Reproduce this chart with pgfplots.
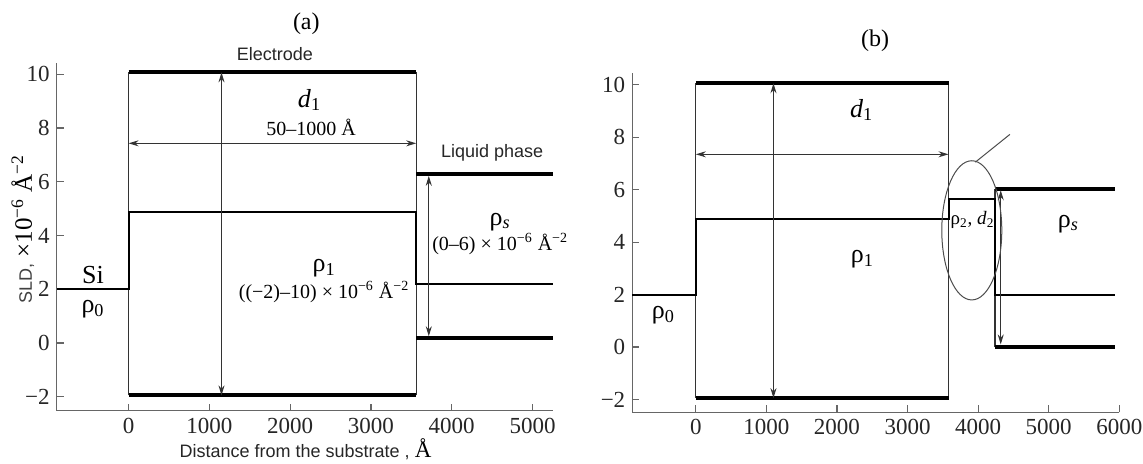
\documentclass[border=0pt]{standalone}
\usepackage{fontspec}
\setmainfont{Liberation Serif}
\newfontfamily\sansf{Liberation Sans}
\usepackage{pgfplots}
\pgfplotsset{compat=1.18}
\usetikzlibrary{arrows.meta}

\pgfplotsset{
  common/.style={
    scale only axis, axis lines*=left, tick align=inside,
    major tick length=3.5pt, clip=false,
    axis line style={black!60, line width=0.6pt},
    every tick/.style={black!60, line width=0.6pt},
    ytick={-2,0,2,4,6,8,10}, yticklabels={−2,0,2,4,6,8,10},
    tick label style={font=\fontsize{11.5}{12}\selectfont, text=black!85},
    anchor=south west,
  },
  thick line/.style={black, line width=2pt},
  thin line/.style={black!80, line width=0.6pt},
  profile/.style={black, line width=1pt},
}
\tikzset{darr/.style={black!80, line width=0.5pt, {Stealth[length=5pt,width=3pt]}-{Stealth[length=5pt,width=3pt]}}}

\begin{document}
\begin{tikzpicture}
\useasboundingbox (0pt,0pt) rectangle (571.5pt,232pt);

% ---------------- panel (a)
\begin{axis}[common, at={(28.35pt,26.65pt)}, width=248pt, height=174pt,
  xmin=-890, xmax=5250, ymin=-2.52, ymax=10.43,
  xtick={0,1000,2000,3000,4000,5000}, xticklabels={0,1000,2000,3000,4000,5000}]
\addplot[thin line] coordinates {(0,-1.95) (0,10.07)};
\addplot[thin line] coordinates {(3560,-1.95) (3560,10.07)};
\addplot[thick line] coordinates {(0,10.07) (3560,10.07)};
\addplot[thick line] coordinates {(0,-1.95) (3560,-1.95)};
\addplot[thick line] coordinates {(3560,6.27) (5250,6.27)};
\addplot[thick line] coordinates {(3560,0.2) (5250,0.2)};
\addplot[profile] coordinates {(-890,2.0) (0,2.0) (0,4.89) (3560,4.89) (3560,2.2) (5250,2.2)};
\draw[darr] (axis cs:1150,-1.95) -- (axis cs:1150,10.07);
\draw[darr] (axis cs:0,7.43) -- (axis cs:3560,7.43);
\draw[darr] (axis cs:3716,0.25) -- (axis cs:3716,6.22);
\node[font=\fontsize{12}{14}\selectfont] at (axis cs:2200,11.89) {(a)};
\node[font=\sansf\fontsize{9}{10}\selectfont, text=black!85] at (axis cs:1810,10.75) {Electrode};
\node[font=\fontsize{13}{14}\selectfont] at (axis cs:2240,9.04) {\textit{d}\textsubscript{1}};
\node[font=\fontsize{10}{12}\selectfont] at (axis cs:2260,8.02) {50–1000 Å};
\node[font=\sansf\fontsize{9}{10}\selectfont, text=black!85] at (axis cs:4500,7.07) {Liquid phase};
\node[font=\fontsize{13}{14}\selectfont] at (axis cs:4600,4.5) {ρ\textsubscript{\textit{s}}};
\node[font=\fontsize{10}{12}\selectfont] at (axis cs:4600,3.68) {(0–6) × 10\textsuperscript{−6} Å\textsuperscript{−2}};
\node[font=\fontsize{13}{14}\selectfont] at (axis cs:2420,2.79) {ρ\textsubscript{1}};
\node[font=\fontsize{10}{12}\selectfont] at (axis cs:2420,1.9) {((−2)–10) × 10\textsuperscript{−6} Å\textsuperscript{−2}};
\node[font=\fontsize{13}{14}\selectfont] at (axis cs:-440,2.53) {Si};
\node[font=\fontsize{13}{14}\selectfont] at (axis cs:-440,1.27) {ρ\textsubscript{0}};
\node[rotate=90, font=\fontsize{12.5}{14}\selectfont] at (axis cs:-1310,4.23)
  {{\sansf\fontsize{9}{10}\selectfont\color{black!75}SLD,} ×10\textsuperscript{−6} Å\textsuperscript{−2}};
\node[inner sep=1pt] at (axis cs:2190,-3.95) {{\sansf\fontsize{9}{10}\selectfont\color{black!85}Distance from the substrate ,} {\fontsize{11.5}{12}\selectfont Å}};
\end{axis}

% ---------------- panel (b)
\begin{axis}[common, at={(316.15pt,25.85pt)}, width=243.5pt, height=169.5pt,
  xmin=-900, xmax=6000, ymin=-2.49, ymax=10.44,
  xtick={0,1000,2000,3000,4000,5000,6000}, xticklabels={0,1000,2000,3000,4000,5000,6000}]
\addplot[thin line] coordinates {(0,-1.95) (0,10.06)};
\addplot[thin line] coordinates {(3580,-1.95) (3580,10.06)};
\addplot[thin line] coordinates {(4240,0) (4240,6.03)};
\addplot[thick line] coordinates {(0,10.06) (3580,10.06)};
\addplot[thick line] coordinates {(0,-1.95) (3580,-1.95)};
\addplot[thick line] coordinates {(4240,6.03) (5940,6.03)};
\addplot[thick line] coordinates {(4240,0) (5940,0)};
\addplot[profile] coordinates {(-900,2.0) (0,2.0) (0,4.87) (3580,4.87) (3580,5.63) (4240,5.63) (4240,2.0) (5940,2.0)};
\draw[darr] (axis cs:1100,-1.95) -- (axis cs:1100,10.06);
\draw[darr] (axis cs:0,7.35) -- (axis cs:3580,7.35);
\draw[darr] (axis cs:4320,0.1) -- (axis cs:4320,5.98);
\draw[black!70, line width=0.5pt] (axis cs:3910,4.45) ellipse [x radius=15pt, y radius=34.8pt];
\draw[black!70, line width=0.5pt] (axis cs:3960,7.05) -- (axis cs:4450,8.11);
\node[font=\fontsize{12}{14}\selectfont] at (axis cs:2540,11.69) {(b)};
\node[font=\fontsize{13}{14}\selectfont] at (axis cs:2350,9.04) {\textit{d}\textsubscript{1}};
\node[font=\fontsize{13}{14}\selectfont] at (axis cs:2360,3.36) {ρ\textsubscript{1}};
\node[font=\fontsize{13}{14}\selectfont] at (axis cs:-460,1.2) {ρ\textsubscript{0}};
\node[font=\fontsize{9.5}{12}\selectfont, inner sep=0.5pt] at (axis cs:3920,4.85) {ρ\textsubscript{2}, \textit{d}\textsubscript{2}};
\node[font=\fontsize{13}{14}\selectfont] at (axis cs:5280,4.69) {ρ\textsubscript{\textit{s}}};
\end{axis}
\end{tikzpicture}
\end{document}
